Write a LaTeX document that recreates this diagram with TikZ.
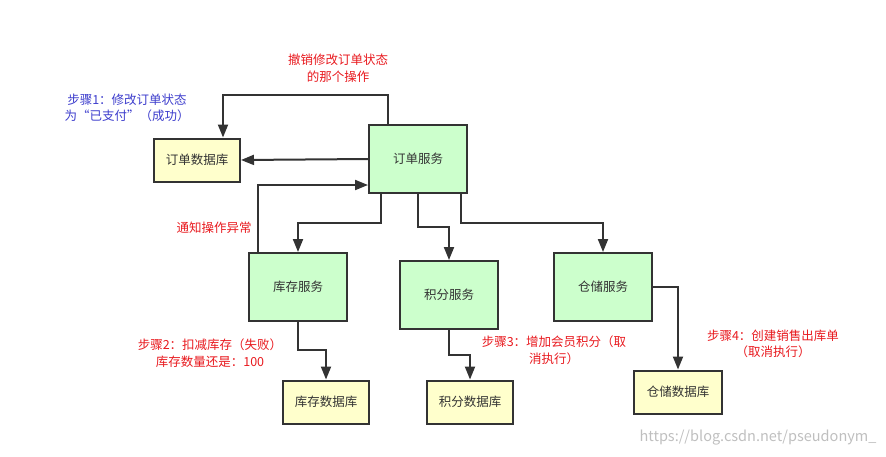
\documentclass[tikz,border=0pt]{standalone}
\usepackage{fontspec}
\setmainfont{Noto Sans CJK SC}
\usepackage{xcolor}
\usepackage{tikz}
\usetikzlibrary{arrows.meta}
\definecolor{svcgreen}{HTML}{CCFFCC}
\definecolor{dbyellow}{HTML}{FFFFCC}
\definecolor{linegray}{HTML}{333333}
\definecolor{notered}{HTML}{E8191E}
\definecolor{noteblue}{HTML}{3C3CCC}

\begin{document}
\begin{tikzpicture}[x=1pt,y=-1pt,
        font=\fontsize{12.5}{16.5}\selectfont,
        svc/.style={draw=linegray, line width=2pt, fill=svcgreen, text=linegray, minimum width=98pt, minimum height=68pt, inner sep=0pt},
        db/.style={draw=linegray, line width=2pt, fill=dbyellow, text=linegray, minimum width=86pt, minimum height=43pt, inner sep=0pt},
        arr/.style={draw=linegray, line width=2pt, -{Triangle[width=10pt,length=13pt]}},
        note/.style={text=notered, align=center, inner sep=0pt}]
                \useasboundingbox (0,0) rectangle (886,456);
                \node [svc] (ordsvc) at (418,159) {订单服务};
                \node [db] (orddb) at (197,160) {订单数据库};
                \node [svc] (stocksvc) at (298,287) {库存服务};
                \node [svc] (ptsvc) at (449,295) {积分服务};
                \node [svc] (whsvc) at (603,287) {仓储服务};
                \node [db] (stockdb) at (326,402) {库存数据库};
                \node [db] (ptdb) at (470,402) {积分数据库};
                \node [db, minimum width=88pt] (whdb) at (678,392) {仓储数据库};
                \draw [arr] ([xshift=-30pt]ordsvc.north) -- ++(0,-29) -| ([xshift=26pt]orddb.north);
                \draw [arr] (ordsvc.west) -- (orddb.east);
                \draw [arr] ([xshift=-40pt]stocksvc.north) |- ([yshift=-26pt]ordsvc.west);
                \draw [arr] ([xshift=-37pt]ordsvc.south) -- ++(0,29) -| (stocksvc.north);
                \draw [arr] (ordsvc.south) -- ++(0,33) -| (ptsvc.north);
                \draw [arr] ([xshift=43pt]ordsvc.south) -- ++(0,29) -| (whsvc.north);
                \draw [arr] (stocksvc.south) -- ++(0,28) -| (stockdb.north);
                \draw [arr] (ptsvc.south) -- ++(0,25) -| (ptdb.north);
                \draw [arr] (whsvc.east) -| (whdb.north);
                \node [note] (undo) at (338,68) {撤销修改订单状态\\的那个操作};
                \node [note, text=noteblue] (step1) at (127,108) {步骤1：修改订单状态\\为“已支付”（成功）};
                \node [note] (notify) at (214,228) {通知操作异常};
                \node [note] (step2) at (210,353) {步骤2：扣减库存（失败）\\库存数量还是：100};
                \node [note] (step3) at (554,350) {步骤3：增加会员积分（取\\消执行）};
                \node [note] (step4) at (773,344) {步骤4：创建销售出库单\\（取消执行）};
                \node [text=black!25, font=\fontsize{14.5}{16}\selectfont, inner sep=0pt] (mark) at (758,438) {https://blog.csdn.net/pseudonym\_};
            \end{tikzpicture}
\end{document}
